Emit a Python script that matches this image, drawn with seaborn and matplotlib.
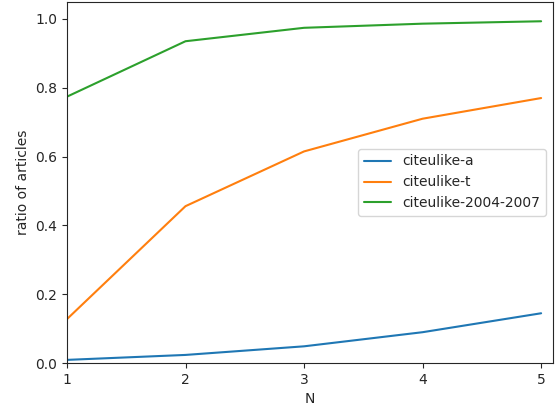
import matplotlib
matplotlib.use("Agg")
import matplotlib.pyplot as plt
import seaborn as sns
import pandas as pd

N = [1, 2, 3, 4, 5]
citeulike_a = [0.0096, 0.024, 0.049, 0.090, 0.145]
citeulike_t = [0.128, 0.456, 0.615, 0.710, 0.770]
citeulike_2004_2007 = [0.774, 0.935, 0.974, 0.986, 0.993]
names = ['citeulike-a', 'citeulike-t', 'citeulike-2004-2007']

sns.set_style("ticks")
plt.rcParams['font.family'] = ['DejaVu Sans']

rows = []
for name, vals in zip(names, [citeulike_a, citeulike_t, citeulike_2004_2007]):
    for n, v in zip(N, vals):
        rows.append({'N': n, 'ratio': v, 'dataset': name})
df = pd.DataFrame(rows)

fig, ax = plt.subplots(figsize=(5.58, 4.09), dpi=100)
sns.lineplot(data=df, x='N', y='ratio', hue='dataset', hue_order=names,
             palette=['#1f77b4', '#ff7f0e', '#2ca02c'], linewidth=1.5, ax=ax)

ax.set_xlim(1, 5.1)
ax.set_ylim(0, 1.05)
ax.set_xticks(N)
ax.set_xlabel('N')
ax.set_ylabel('ratio of articles')
ax.legend(loc='center right')
for s in ax.spines.values():
    s.set_linewidth(0.8)

fig.subplots_adjust(left=0.12, right=0.991, bottom=0.112, top=0.996)
fig.savefig('out.png', dpi=100)
